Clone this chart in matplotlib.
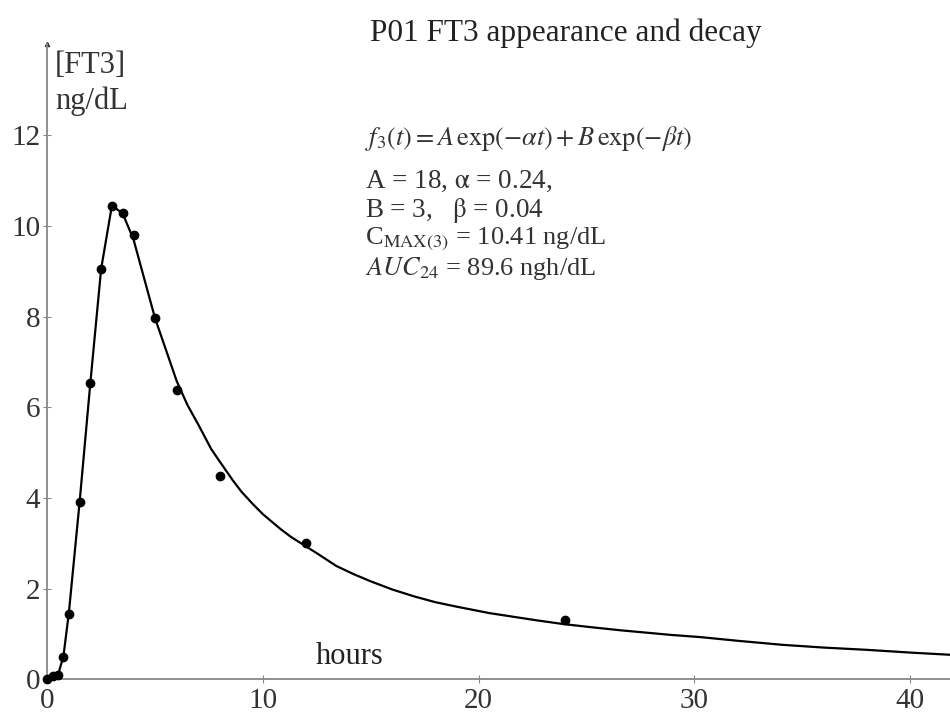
import numpy as np
import matplotlib
matplotlib.use('Agg')
import matplotlib.pyplot as plt

plt.rcParams['font.family'] = ['Liberation Serif', 'DejaVu Serif']
plt.rcParams['mathtext.fontset'] = 'stix'

# measured FT3 (ng/dL) vs time (hours)
t_obs = [0, 0.25, 0.5, 0.75, 1, 1.5, 2, 2.5, 3, 3.5, 4, 5, 6, 8, 12, 24]
c_obs = [0, 0.08, 0.1, 0.5, 1.45, 3.9, 6.54, 9.05, 10.43, 10.29, 9.79, 7.96, 6.39, 4.49, 3.0, 1.31]

# fitted curve
t_fit = [0, 0.25, 0.5, 0.75, 1, 1.5, 2, 2.5, 3, 3.5, 4, 5, 6, 6.5, 7.0, 7.6,
         8.0, 8.6, 9.0, 9.5, 10.0, 10.8, 11.3, 11.9, 12.5, 13.4, 14.2, 15,
         16, 17, 18, 19, 20.5, 22.7, 23.9, 25.2, 26.6, 28.9, 30.3, 32, 34.1,
         36, 38, 40, 41.9]
c_fit = [0, 0.08, 0.1, 0.5, 1.45, 3.9, 6.54, 9.05, 10.45, 10.27, 9.7, 7.96,
         6.58, 6.05, 5.62, 5.08, 4.80, 4.39, 4.14, 3.88, 3.64, 3.32, 3.14,
         2.96, 2.78, 2.50, 2.32, 2.16, 1.98, 1.83, 1.70, 1.60, 1.46, 1.30,
         1.22, 1.15, 1.08, 0.98, 0.93, 0.85, 0.76, 0.70, 0.65, 0.59, 0.54]

xticks = [0, 10, 20, 30, 40]
yticks = [0, 2, 4, 6, 8, 10, 12]

fig = plt.figure(figsize=(9.5, 7.15), dpi=100)
ax = fig.add_axes([0.0497, 0.0499, 0.9503, 0.888])

ax.plot(t_fit, c_fit, color='black', lw=1.6, zorder=3)
ax.plot(t_obs, c_obs, 'o', color='black', ms=6, zorder=4, clip_on=False)

ax.set_xlim(0, 41.85)
ax.set_ylim(0, 14)
for s in ['top', 'right']:
    ax.spines[s].set_visible(False)
for s in ['left', 'bottom']:
    ax.spines[s].set_color('#888888')
    ax.spines[s].set_linewidth(1.3)
ax.plot([0], [14], marker='^', color='#333333', ms=3, clip_on=False)

ax.set_xticks(xticks)
ax.set_yticks(yticks)
ax.tick_params(direction='inout', length=6, width=0.8, colors='#888888',
               labelcolor='#333333', labelsize=21)
ax.tick_params(axis='x', pad=3)
ax.tick_params(axis='y', pad=2)

fig.text(0.596, 0.953, 'P01 FT3 appearance and decay', fontsize=22.5,
         ha='center', va='center', color='#222222')
fig.text(0.058, 0.908, '[FT3]', fontsize=22, ha='left', va='center', color='#333333')
fig.text(0.058, 0.858, 'ng/dL', fontsize=22, ha='left', va='center', color='#333333')
fig.text(0.368, 0.082, 'hours', fontsize=22, ha='center', va='center', color='#222222')

x0 = 0.384
fig.text(x0, 0.806, r'$f_3(t) = A\,\exp(-\alpha t) + B\,\exp(-\beta t)$',
         fontsize=19, ha='left', va='center', color='#333333')
fig.text(x0, 0.746, r'A = 18, $\mathrm{\alpha}$ = 0.24,', fontsize=19.5,
         ha='left', va='center', color='#333333')
fig.text(x0, 0.705, r'B = 3,   $\mathrm{\beta}$ = 0.04', fontsize=19.5,
         ha='left', va='center', color='#333333')
fig.text(x0, 0.665, r'C$_{\mathrm{MAX(3)}}$ = 10.41 ng/dL', fontsize=19,
         ha='left', va='center', color='#333333')
fig.text(x0, 0.624, r'$AUC_{24}$ = 89.6 ngh/dL', fontsize=19,
         ha='left', va='center', color='#333333')

plt.savefig('out.png', dpi=100)
